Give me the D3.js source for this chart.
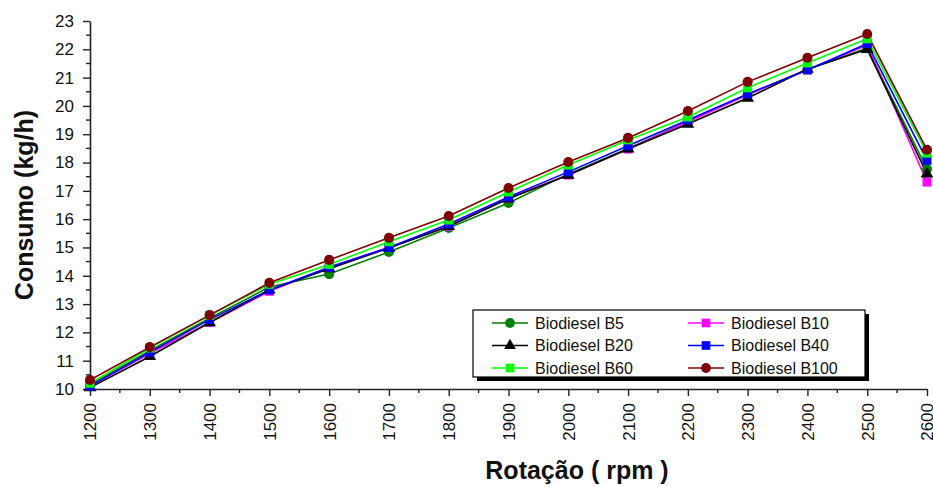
<!DOCTYPE html>
<html>
<head>
<meta charset="utf-8">
<script src="https://cdn.jsdelivr.net/npm/d3@7"></script>
<style>
  body { margin: 0; background: #fff; }
  svg { display: block; font-family: Arial, "Liberation Sans", sans-serif; }
</style>
</head>
<body>
<div id="chart"></div>
<script>
const rpm = [1200, 1300, 1400, 1500, 1600, 1700, 1800, 1900, 2000, 2100, 2200, 2300, 2400, 2500, 2600]
const b5 = [10.15, 11.35, 12.5, 13.6, 14.06, 14.84, 15.69, 16.57, 17.6, 18.5, 19.45, 20.4, 21.3, 22.05, 17.77]
const b10 = [10.1, 11.25, 12.35, 13.45, 14.3, 15.0, 15.75, 16.75, 17.56, 18.48, 19.43, 20.39, 21.28, 22.15, 17.31]
const b20 = [10.05, 11.15, 12.35, 13.5, 14.25, 14.98, 15.75, 16.72, 17.56, 18.48, 19.36, 20.28, 21.3, 22.0, 17.6]
const b40 = [10.1, 11.3, 12.45, 13.5, 14.3, 15.0, 15.83, 16.78, 17.67, 18.59, 19.5, 20.42, 21.27, 22.2, 18.08]
const b60 = [10.2, 11.45, 12.6, 13.7, 14.4, 15.2, 15.97, 16.96, 17.91, 18.8, 19.61, 20.64, 21.52, 22.37, 18.33]
const b100 = [10.32, 11.48, 12.61, 13.75, 14.56, 15.34, 16.11, 17.1, 18.02, 18.87, 19.82, 20.85, 21.7, 22.54, 18.45]
const yTicks = [10, 11, 12, 13, 14, 15, 16, 17, 18, 19, 20, 21, 22, 23]

const series = [
  { name: 'Biodiesel B5', values: b5, color: '#008000', symbol: d3.symbolCircle },
  { name: 'Biodiesel B10', values: b10, color: '#ff00ff', symbol: d3.symbolSquare },
  { name: 'Biodiesel B20', values: b20, color: '#000000', symbol: d3.symbolTriangle },
  { name: 'Biodiesel B40', values: b40, color: '#0000ff', symbol: d3.symbolSquare },
  { name: 'Biodiesel B60', values: b60, color: '#00ff00', symbol: d3.symbolSquare },
  { name: 'Biodiesel B100', values: b100, color: '#800000', symbol: d3.symbolCircle }
]

const width = 933, height = 487
const x = d3.scaleLinear().domain([1200, 2600]).range([90, 927])
const y = d3.scaleLinear().domain([10, 23]).range([389, 21])

const svg = d3.select('#chart').append('svg')
  .attr('width', width).attr('height', height)

// Axes
const axisColor = '#222'
const yAxis = svg.append('g').attr('transform', `translate(${x(1200)},0)`)
  .call(d3.axisLeft(y).tickValues(yTicks).tickFormat(d3.format('d')).tickSize(7).tickSizeOuter(0))
yAxis.select('.domain').attr('stroke', axisColor).attr('stroke-width', 1.6)
yAxis.selectAll('.tick line').attr('stroke', axisColor).attr('stroke-width', 1.4)
yAxis.selectAll('.tick text').attr('font-size', 17).attr('fill', '#111').attr('x', -16)
  .attr('font-family', 'Arial, "Liberation Sans", sans-serif')
// minor y ticks
svg.append('g').selectAll('line').data(yTicks.slice(0, -1).map(v => v + 0.5)).join('line')
  .attr('x1', x(1200) - 4).attr('x2', x(1200))
  .attr('y1', d => y(d)).attr('y2', d => y(d))
  .attr('stroke', axisColor).attr('stroke-width', 1.4)

const xAxis = svg.append('g').attr('transform', `translate(0,${y(10)})`)
  .call(d3.axisBottom(x).tickValues(rpm).tickFormat(d3.format('d')).tickSize(7).tickSizeOuter(0))
xAxis.select('.domain').attr('stroke', axisColor).attr('stroke-width', 1.6)
xAxis.selectAll('.tick line').attr('stroke', axisColor).attr('stroke-width', 1.4)
xAxis.selectAll('.tick text')
  .attr('font-size', 17).attr('fill', '#111')
  .attr('font-family', 'Arial, "Liberation Sans", sans-serif')
  .attr('transform', 'rotate(-90)')
  .attr('x', -14).attr('y', 0).attr('dy', '0.35em')
  .attr('text-anchor', 'end')
// minor x ticks
svg.append('g').selectAll('line').data(rpm.slice(0, -1).map(v => v + 50)).join('line')
  .attr('x1', d => x(d)).attr('x2', d => x(d))
  .attr('y1', y(10)).attr('y2', y(10) + 4)
  .attr('stroke', axisColor).attr('stroke-width', 1.4)

// Axis titles
svg.append('text')
  .attr('transform', `translate(33,${(y(10) + y(23)) / 2}) rotate(-90)`)
  .attr('text-anchor', 'middle').attr('font-size', 25).attr('font-weight', 'bold')
  .attr('fill', '#111').text('Consumo (kg/h)')
svg.append('text')
  .attr('x', 577).attr('y', 479)
  .attr('text-anchor', 'middle').attr('font-size', 25).attr('font-weight', 'bold')
  .attr('fill', '#111').text('Rotação ( rpm )')

// Lines and markers
const line = d3.line().x((d, i) => x(rpm[i])).y(d => y(d))
series.forEach(s => {
  svg.append('path').datum(s.values)
    .attr('d', line).attr('fill', 'none')
    .attr('stroke', s.color).attr('stroke-width', 1.6)
})
series.forEach(s => {
  const sym = d3.symbol().type(s.symbol).size(s.symbol === d3.symbolTriangle ? 70 : 80)
  svg.append('g').selectAll('path').data(s.values).join('path')
    .attr('transform', (d, i) => `translate(${x(rpm[i])},${y(d)})`)
    .attr('d', sym).attr('fill', s.color)
})

// Legend
const lg = { x: 473, y: 310, w: 392, h: 67 }
svg.append('rect').attr('x', lg.x + 4).attr('y', lg.y + 4)
  .attr('width', lg.w).attr('height', lg.h).attr('fill', '#000')
svg.append('rect').attr('x', lg.x).attr('y', lg.y)
  .attr('width', lg.w).attr('height', lg.h)
  .attr('fill', '#fff').attr('stroke', '#000').attr('stroke-width', 1.2)

series.forEach((s, i) => {
  const col = i % 2, row = Math.floor(i / 2)
  const lx = lg.x + 19 + col * 196
  const ly = lg.y + 13 + row * 22.5
  const g = svg.append('g')
  g.append('line').attr('x1', lx).attr('x2', lx + 36).attr('y1', ly).attr('y2', ly)
    .attr('stroke', s.color).attr('stroke-width', 1.4)
  g.append('path').attr('transform', `translate(${lx + 18},${ly})`)
    .attr('d', d3.symbol().type(s.symbol).size(s.symbol === d3.symbolTriangle ? 60 : 75))
    .attr('fill', s.color)
  g.append('text').attr('x', lx + 43).attr('y', ly).attr('dy', '0.36em')
    .attr('font-size', 16).attr('fill', '#111').text(s.name)
})
</script>
</body>
</html>
